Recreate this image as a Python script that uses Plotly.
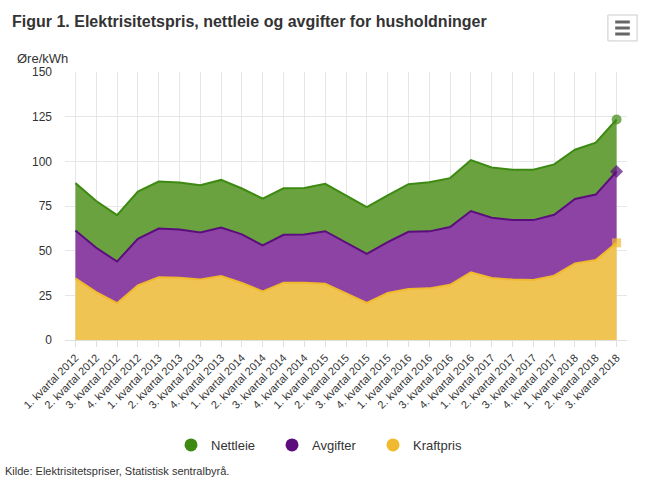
import plotly.graph_objects as go

kvartal = []
for year in range(2012, 2019):
    for q in range(1, 5):
        if year == 2018 and q > 3:
            break
        kvartal.append(str(q) + '. kvartal ' + str(year))

kraftpris = [34.5, 26.8, 20.6, 30.6, 35.1, 34.9, 33.8, 35.8, 31.9, 27.2, 32.1, 32.1, 31.5, 26.3,
             20.8, 26.3, 28.5, 28.9, 30.9, 37.9, 34.7, 33.8, 33.6, 36.0, 42.9, 44.8, 54.4]
avgifter = [26.8, 24.8, 23.3, 26.0, 27.3, 27.0, 26.4, 27.2, 27.2, 25.7, 26.8, 27.0, 29.4, 28.1,
            27.4, 28.5, 32.1, 31.9, 32.3, 34.3, 33.7, 33.3, 33.5, 34.1, 36.0, 36.6, 39.9]
nettleie = [26.5, 26.2, 26.0, 26.5, 26.3, 26.2, 26.4, 26.6, 25.7, 26.2, 26.0, 26.0, 26.5, 26.6,
            26.2, 26.2, 26.6, 27.5, 27.4, 28.5, 28.2, 28.2, 28.2, 28.2, 27.6, 29.0, 29.1]

font = 'Liberation Sans, Arial, sans-serif'
n = len(kvartal)

# only the last point gets a marker, like the original
def last_marker(color, symbol, size):
    return dict(size=[0] * (n - 1) + [size], color=color, symbol=symbol, line=dict(width=0))

fig = go.Figure()
series = [
    ('Kraftpris', kraftpris, '#f0b92e', 'rgba(240,196,82,1)', 'square', 9),
    ('Avgifter', avgifter, '#5b0d7e', 'rgba(140,67,164,1)', 'diamond', 10),
    ('Nettleie', nettleie, '#3d8a12', 'rgba(106,162,64,1)', 'circle', 10),
]
for name, vals, lc, fc, sym, sz in series:
    fig.add_trace(go.Scatter(
        x=kvartal, y=vals, name=name, stackgroup='one', mode='lines+markers',
        line=dict(color=lc, width=2), fillcolor=fc,
        marker=last_marker(lc, sym, sz), showlegend=False
    ))
# legend entries as plain circles
for name, vals, lc, fc, sym, sz in series[::-1]:
    fig.add_trace(go.Scatter(
        x=[None], y=[None], name=name, mode='markers',
        marker=dict(color=lc, size=13, symbol='circle')
    ))

fig.update_layout(
    width=646, height=484,
    margin=dict(l=65, r=19, t=72, b=144, autoexpand=False),
    paper_bgcolor='white', plot_bgcolor='white',
    font=dict(family=font, color='#333333'),
    title=dict(text='Figur 1. Elektrisitetspris, nettleie og avgifter for husholdninger',
               x=12 / 646, xref='container', xanchor='left',
               y=1 - 21 / 484, yanchor='middle',
               font=dict(size=16, weight='bold', color='#333333', family=font)),
    showlegend=True,
    legend=dict(orientation='h', traceorder='normal', entrywidth=56, entrywidthmode='pixels',
                x=171 / 646, xref='container', xanchor='left',
                y=1 - 445 / 484, yref='container', yanchor='middle',
                font=dict(size=13, color='#333333'), itemclick=False),
    hovermode=False,
)
fig.update_xaxes(
    type='category', range=[-0.5, n - 0.5], automargin=False,
    showgrid=True, gridcolor='#e6e6e6', gridwidth=1,
    ticks='outside', ticklen=6, tickcolor='#e0e0e0',
    showline=True, linecolor='#e0e0e0',
    tickangle=-45, tickfont=dict(size=11, color='#333333'),
)
fig.update_yaxes(
    range=[0, 150], dtick=25, tick0=0, automargin=False,
    showgrid=True, gridcolor='#e6e6e6', zeroline=False,
    tickfont=dict(size=12, color='#333333'), ticks='', ticklabelstandoff=12,
)

fig.add_annotation(text='Øre/kWh', xref='paper', yref='paper', x=-0.089, y=1.05,
                   xanchor='left', yanchor='middle', showarrow=False,
                   font=dict(size=13, color='#333333'))
fig.add_annotation(text='Kilde: Elektrisitetspriser, Statistisk sentralbyrå.',
                   xref='paper', yref='paper', x=-0.11, y=-0.49,
                   xanchor='left', yanchor='middle', showarrow=False,
                   font=dict(size=11, color='#333333'))

# export menu button (decoration)
fig.add_shape(type='rect', xref='paper', yref='paper', x0=0.966, x1=1.018, y0=1.116, y1=1.2127,
              line=dict(color='#cccccc', width=1), fillcolor='white')
for yy in [1.1866, 1.1642, 1.1418]:
    fig.add_shape(type='line', xref='paper', yref='paper', x0=0.979, x1=1.005, y0=yy, y1=yy,
                  line=dict(color='#666666', width=3))

# page has a default 8px body margin, drop it so the chart sits at the corner
fig.write_html('out.html', config={'displayModeBar': False},
               post_script="document.body.style.margin='0';")
